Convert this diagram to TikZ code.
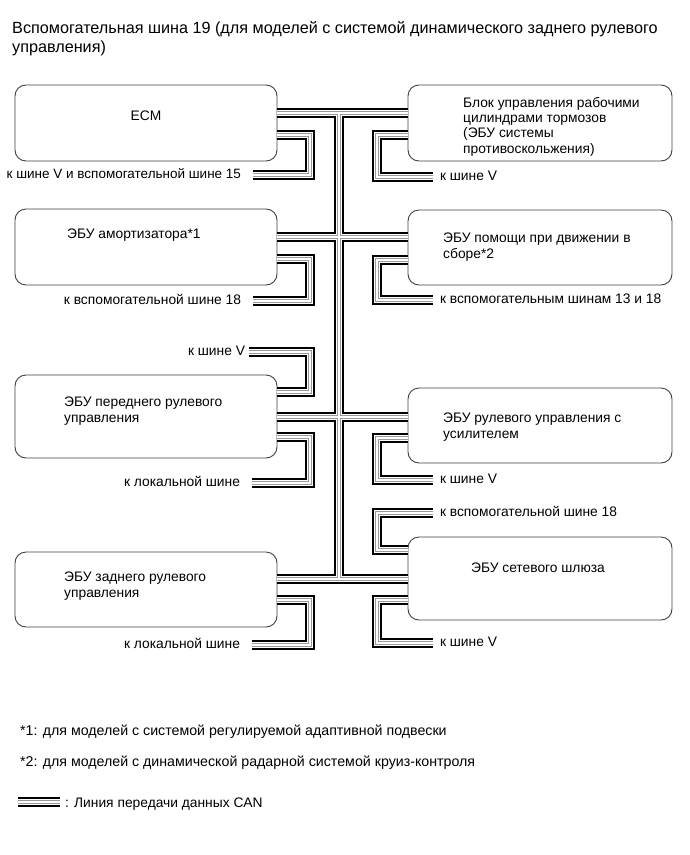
\documentclass[tikz,border=0pt]{standalone}
\usepackage{fontspec}
\setmainfont{Liberation Sans}
\begin{document}
\begin{tikzpicture}[x=1pt,y=-1pt,
  box/.style={draw=black!75, line width=0.9pt, rounded corners=11pt, fill=white, inner sep=0pt, outer sep=0pt, minimum width=262pt},
  rbox/.style={box, minimum width=264pt},
  nfont/.style={font=\fontsize{13.8}{15.3}\selectfont},
  txt/.style={nfont, inner sep=0pt, align=left, anchor=north west},
  llab/.style={nfont, inner sep=0pt, outer xsep=12pt, text height=9pt, text depth=2pt, anchor=east},
  rlab/.style={nfont, inner sep=0pt, outer xsep=7pt, text height=9pt, text depth=2pt, anchor=west},
  note/.style={font=\fontsize{14.2}{17}\selectfont, inner sep=0pt, anchor=base west}
]
\useasboundingbox (0,0) rectangle (690,855);

% title
\node[inner sep=0pt, anchor=north west, align=left, font=\fontsize{16.2}{18.5}\selectfont] (title) at (12,21.5)
  {Вспомогательная шина 19 (для моделей с системой динамического заднего рулевого\\управления)};

% boxes
\node[box, minimum height=76pt] (ecm) at (146,123) {};
\node[box, minimum height=76pt] (amort) at (146,247) {};
\node[box, minimum height=83pt] (front) at (146,416.5) {};
\node[box, minimum height=75pt] (rear) at (146,589.5) {};
\node[rbox, minimum height=76pt] (abs) at (540,123) {};
\node[rbox, minimum height=75pt] (assist) at (540,247.5) {};
\node[rbox, minimum height=75pt] (eps) at (540,425.5) {};
\node[rbox, minimum height=83pt] (gw) at (540,578.5) {};

% box texts
\node[nfont, inner sep=0pt, anchor=base] (ecmt) at (146,120) {ECM};
\node[txt] (abst) at (463,97) {Блок управления рабочими\\цилиндрами тормозов\\(ЭБУ системы\\противоскольжения)};
\node[txt] (amortt) at (67,229) {ЭБУ амортизатора*1};
\node[txt] (frontt) at (64,397) {ЭБУ переднего рулевого\\управления};
\node[txt] (reart) at (64,572) {ЭБУ заднего рулевого\\управления};
\node[txt] (assistt) at (443,233) {ЭБУ помощи при движении в\\сборе*2};
\node[txt] (epst) at (443,413) {ЭБУ рулевого управления с\\усилителем};
\node[nfont, inner sep=0pt, anchor=base] (gwt) at (538,572) {ЭБУ сетевого шлюза};

% labels
\node[llab, font=\fontsize{13.5}{15.3}\selectfont] (l1) at (253,175) {к шине V и вспомогательной шине 15};
\node[llab] (l2) at (253,301) {к вспомогательной шине 18};
\node[llab, outer xsep=4pt] (l3) at (249,352) {к шине V};
\node[llab] (l4) at (252,483) {к локальной шине};
\node[llab] (l5) at (252,645) {к локальной шине};
\node[rlab] (r1) at (433,177) {к шине V};
\node[rlab] (r2) at (433,300) {к вспомогательным шинам 13 и 18};
\node[rlab] (r3) at (433,480) {к шине V};
\node[rlab] (r4) at (433,513) {к вспомогательной шине 18};
\node[rlab] (r5) at (433,643) {к шине V};

% footnotes
\node[note] (n1) at (20,735) {*1: для моделей с системой регулируемой адаптивной подвески};
\node[note] (n2) at (20,766) {*2: для моделей с динамической радарной системой круиз-контроля};
\node[note, font=\fontsize{13.8}{17}\selectfont] (n3) at (65,807) {: Линия передачи данных CAN};

% bus coordinates
\coordinate (bt) at (339,113);
\coordinate (bb) at (339,579);
\coordinate (lg1) at (18,802);
\coordinate (lg2) at (60,802);

% CAN lines (layered strokes)
\foreach \w/\c in {10.4/black, 6.4/white, 4.4/black!40, 2.4/white}{
  \draw[line width=\w pt, draw=\c, line join=miter, line cap=butt]
    (ecm.east |- bt) -- (abs.west |- bt)
    (bt) -- (bb)
    (amort.east |- 0,237) -- (assist.west |- 0,237)
    (front.east |- 0,417) -- (eps.west |- 0,417)
    (rear.east |- bb) -- (gw.west |- bb)
    (ecm.east |- 0,135) -| (310,175) -- (l1.east)
    (amort.east |- 0,259) -| (310,301) -- (l2.east)
    (l3.east) -| (310,392) -- (front.east |- 0,392)
    (front.east |- 0,437) -| (310,483) -- (l4.east)
    (rear.east |- 0,600) -| (310,645) -- (l5.east)
    (abs.west |- 0,135) -| (377,177) -- (r1.west)
    (assist.west |- 0,260) -| (377,300) -- (r2.west)
    (eps.west |- 0,438) -| (377,480) -- (r3.west)
    (r4.west) -| (377,550) -- (gw.west |- 0,550)
    (gw.west |- 0,600) -| (377,643) -- (r5.west)
    (lg1) -- (lg2);
}
\end{tikzpicture}
\end{document}
